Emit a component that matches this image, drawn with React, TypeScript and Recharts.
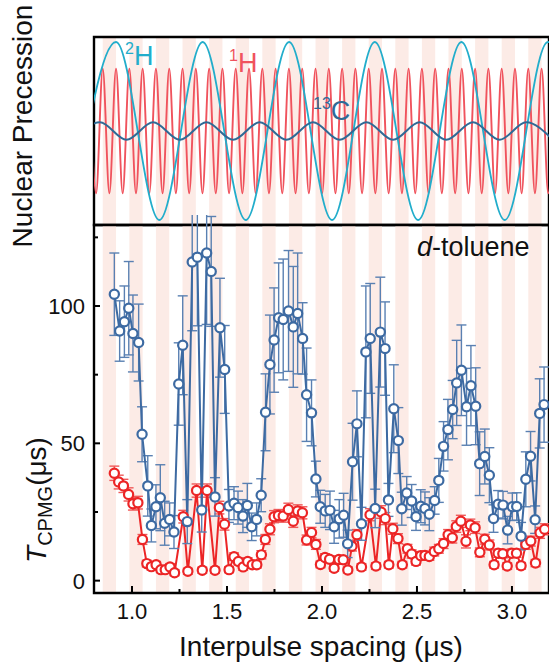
import React from "react"
import { LineChart, ComposedChart, Line, XAxis, YAxis, ReferenceArea, ErrorBar } from "recharts"

const FONT = '"Liberation Sans", Arial, Helvetica, sans-serif'

const X_DOMAIN: [number, number] = [0.8, 3.195]
const X_TICKS = [1.0, 1.25, 1.5, 1.75, 2.0, 2.25, 2.5, 2.75, 3.0]
const TOP_TICKS = [1.0, 1.5, 2.0, 2.5, 3.0]
const Y_TICKS = [0, 25, 50, 75, 100, 125]

// pink bands: where each one starts (µs); each is one 1H period wide
const BAND_STARTS = [
  0.846, 0.986, 1.126, 1.266, 1.406, 1.546, 1.686, 1.826, 1.966, 2.106, 2.246, 2.386, 2.526, 2.666, 2.806,
  2.946, 3.086,
]
const BAND_WIDTH = 0.07

// precession curves: successive maxima / minima positions (µs)
const H1_EXTREMA = [
  0.776, 0.811, 0.846, 0.881, 0.916, 0.951, 0.986, 1.021, 1.056, 1.091, 1.126, 1.161, 1.196, 1.231, 1.266,
  1.301, 1.336, 1.371, 1.406, 1.441, 1.476, 1.511, 1.546, 1.581, 1.616, 1.651, 1.686, 1.721, 1.756, 1.791,
  1.826, 1.861, 1.896, 1.931, 1.966, 2.001, 2.036, 2.071, 2.106, 2.141, 2.176, 2.211, 2.246, 2.281, 2.316,
  2.351, 2.386, 2.421, 2.456, 2.491, 2.526, 2.561, 2.596, 2.631, 2.666, 2.701, 2.736, 2.771, 2.806, 2.841,
  2.876, 2.911, 2.946, 2.981, 3.016, 3.051, 3.086, 3.121, 3.156, 3.191, 3.226,
]
const H1_AMP = 0.663 // first extremum is a maximum
const H2_EXTREMA = [0.689, 0.916, 1.144, 1.372, 1.599, 1.827, 2.053, 2.278, 2.506, 2.734, 2.962, 3.189, 3.416]
const H2_AMP = 0.947 // first extremum is a minimum
const C13_EXTREMA = [
  0.691, 0.831, 0.971, 1.111, 1.252, 1.392, 1.532, 1.672, 1.813, 1.953, 2.093, 2.234, 2.374, 2.514, 2.654,
  2.795, 2.935, 3.075, 3.215,
]
const C13_AMP = 0.093 // first extremum is a minimum

// T_CPMG, blue series
const BLUE_X = [
  0.907, 0.935, 0.96, 0.983, 1.005, 1.035, 1.053, 1.083, 1.102, 1.126, 1.149, 1.172, 1.198, 1.221, 1.246,
  1.267, 1.291, 1.317, 1.344, 1.367, 1.393, 1.417, 1.437, 1.463, 1.488, 1.51, 1.537, 1.558, 1.584, 1.607,
  1.63, 1.656, 1.68, 1.703, 1.726, 1.748, 1.772, 1.796, 1.824, 1.849, 1.872, 1.898, 1.919, 1.945, 1.968,
  1.991, 2.017, 2.042, 2.064, 2.091, 2.114, 2.135, 2.161, 2.184, 2.208, 2.231, 2.254, 2.28, 2.307, 2.332,
  2.35, 2.378, 2.402, 2.42, 2.446, 2.472, 2.495, 2.52, 2.542, 2.565, 2.593, 2.615, 2.64, 2.663, 2.688,
  2.709, 2.734, 2.761, 2.784, 2.809, 2.83, 2.857, 2.881, 2.903, 2.927, 2.953, 2.977, 3.002, 3.025, 3.048,
  3.073, 3.098, 3.122, 3.146, 3.169,
]
const BLUE_T = [
  104.3, 90.9, 94.3, 99.2, 90.0, 86.7, 53.3, 34.5, 20.1, 26.9, 30.2, 20.9, 22.3, 17.7, 71.6,
  85.7, 21.5, 116.0, 117.8, 25.7, 119.3, 112.6, 30.5, 92.1, 76.9, 27.2, 28.2, 26.6, 23.5, 27.4,
  19.6, 22.3, 31.1, 61.3, 78.7, 87.6, 95.7, 95.1, 98.2, 92.4, 97.3, 88.2, 67.7, 61.1, 37.0,
  26.9, 25.4, 25.6, 19.6, 22.5, 23.8, 13.4, 43.3, 57.1, 20.7, 83.3, 88.2, 26.3, 90.5, 84.5,
  29.4, 62.6, 51.0, 26.2, 31.9, 29.0, 23.3, 27.1, 26.3, 24.2, 29.2, 36.5, 48.9, 55.0, 62.3,
  72.0, 76.6, 63.3, 71.0, 63.5, 42.6, 45.2, 38.4, 22.6, 27.8, 27.5, 18.4, 26.9, 27.0, 16.2,
  36.9, 45.3, 22.2, 60.9, 64.1,
]
const BLUE_ERR = [
  15, 11, 13, 17, 14, 14, 10, 11, 6, 8, 12, 8, 6, 6, 15,
  18, 8, 25, 25, 8, 26, 20, 7, 18, 16, 6, 6, 6, 6, 8,
  5, 6, 6, 14, 18, 19, 20, 22, 22, 22, 22, 13, 17, 12, 6.5,
  6, 6, 7, 6, 7, 8, 5, 14, 12, 6, 24, 20, 7, 20, 17,
  6, 16, 12, 6, 6, 6, 5, 6, 6, 6, 5, 8, 9, 11, 10.6,
  15.5, 16.5, 14, 14.6, 14, 11.6, 10, 10, 5, 5, 5, 5, 5, 5, 5,
  10, 9, 5, 12.6, 13.7,
]

// T_CPMG, red series
const RED_X = [
  0.907, 0.93, 0.955, 0.982, 1.005, 1.031, 1.055, 1.078, 1.102, 1.127, 1.152, 1.175, 1.2, 1.224, 1.27,
  1.294, 1.34, 1.37, 1.395, 1.437, 1.46, 1.487, 1.511, 1.537, 1.56, 1.585, 1.609, 1.633, 1.657, 1.681,
  1.702, 1.726, 1.748, 1.771, 1.796, 1.823, 1.849, 1.872, 1.897, 1.919, 1.945, 1.968, 1.992, 2.016, 2.04,
  2.064, 2.089, 2.112, 2.136, 2.158, 2.184, 2.208, 2.253, 2.284, 2.311, 2.333, 2.352, 2.373, 2.4, 2.423,
  2.45, 2.472, 2.495, 2.52, 2.542, 2.565, 2.591, 2.615, 2.64, 2.664, 2.686, 2.707, 2.731, 2.758, 2.781,
  2.806, 2.831, 2.857, 2.881, 2.906, 2.927, 2.952, 2.975, 2.999, 3.024, 3.048, 3.073, 3.099, 3.124, 3.148,
  3.172,
]
const RED_T = [
  39.1, 35.9, 34.5, 31.4, 28.0, 28.4, 15.0, 6.2, 5.1, 5.8, 4.0, 4.0, 5.0, 2.9, 23.3,
  3.4, 32.8, 3.8, 32.8, 3.8, 26.6, 20.5, 4.0, 8.7, 7.0, 5.0, 7.0, 5.8, 5.8, 9.4,
  15.0, 18.7, 23.3, 23.7, 23.5, 25.9, 21.6, 25.4, 24.7, 14.8, 17.5, 13.2, 5.9, 8.4, 7.8,
  4.5, 7.7, 7.6, 3.9, 12.5, 16.7, 5.0, 24.0, 5.3, 25.0, 22.6, 5.8, 18.9, 15.3, 5.8,
  11.6, 9.7, 7.0, 9.1, 9.2, 8.8, 10.6, 11.6, 13.5, 16.7, 15.6, 19.7, 21.6, 14.3, 20.3,
  19.3, 10.3, 15.1, 13.0, 5.8, 10.0, 9.8, 5.3, 10.0, 10.0, 5.4, 13.2, 14.4, 6.4, 17.4,
  18.7,
]
const RED_ERR = [
  2.6, 2.5, 2.4, 2.4, 2.3, 2.3, 1.8, 1.2, 1.2, 1.2, 1.1, 1.1, 1.2, 1.1, 2.3,
  1.1, 2.4, 1.1, 2.4, 1.1, 2.3, 2.1, 1.1, 1.4, 1.3, 1.2, 1.3, 1.2, 1.2, 1.5,
  1.8, 2.0, 2.2, 2.2, 2.2, 2.3, 2.2, 2.2, 2.2, 1.8, 1.9, 1.8, 1.2, 1.4, 1.3,
  1.1, 1.3, 1.3, 1.1, 1.7, 1.9, 1.2, 2.2, 1.2, 2.3, 2.2, 1.2, 2.0, 1.8, 1.2,
  1.6, 1.5, 1.3, 1.5, 1.5, 1.4, 1.6, 1.6, 1.8, 1.9, 1.9, 2.1, 2.2, 2.4, 2.1,
  2.1, 1.6, 1.8, 1.8, 1.2, 1.5, 1.5, 1.2, 1.5, 1.5, 1.2, 1.8, 1.8, 1.3, 2.0,
  2.0,
]

const BLUE = "#3d6aa2"
const BLUE_BAR = "#5a80b2"
const RED = "#ec2526"
const RED_BAR = "#ef5a5a"
const H1_COLOR = "#f0535d"
const H2_COLOR = "#22adcb"
const C13_COLOR = "#2f6a96"
const BAND_FILL = "#fcebe6"

const wave = (ext: number[], amp: number, firstSign: number) =>
  ext.map((x, i) => ({ x, y: (i % 2 === 0 ? firstSign : -firstSign) * amp }))

const h1Data = wave(H1_EXTREMA, H1_AMP, 1)
const h2Data = wave(H2_EXTREMA, H2_AMP, -1)
const c13Data = wave(C13_EXTREMA, C13_AMP, -1)

const blueData = BLUE_X.map((x, i) => ({ x, t: BLUE_T[i], err: BLUE_ERR[i] }))
const redData = RED_X.map((x, i) => ({ x, t: RED_T[i], err: RED_ERR[i] }))

const isHalf = (v: number) => Math.abs(v * 2 - Math.round(v * 2)) < 1e-6
const isWhole = (v: number) => Math.abs(v - Math.round(v)) < 1e-6

const BottomXTick = (props: any) => {
  const { x, y, payload } = props
  const v = payload.value
  const major = isHalf(v)
  return (
    <g>
      <line x1={x} x2={x} y1={y} y2={y - (major ? 7 : 4)} stroke="#000" strokeWidth={2} />
      {major && (
        <text x={x} y={y + 26} textAnchor="middle" fontSize={22} fill="#111" fontFamily={FONT}>
          {v.toFixed(1)}
        </text>
      )}
    </g>
  )
}

const TopXTick = (props: any) => {
  const { x, y, payload } = props
  const v = payload.value
  return <line x1={x} x2={x} y1={y} y2={y - (isWhole(v) ? 5 : 2.5)} stroke="#000" strokeWidth={2} />
}

const LeftYTick = (props: any) => {
  const { x, y, payload } = props
  const v = payload.value
  const major = v % 50 === 0
  return (
    <g>
      <line x1={x} x2={x + (major ? 6 : 4)} y1={y} y2={y} stroke="#000" strokeWidth={2} />
      {major && (
        <text x={x - 9} y={y + 8} textAnchor="end" fontSize={22} fill="#111" fontFamily={FONT}>
          {v}
        </text>
      )}
    </g>
  )
}

const bands = (prefix: string) =>
  BAND_STARTS.map((s) => (
    <ReferenceArea
      key={prefix + s}
      x1={s}
      x2={Math.min(s + BAND_WIDTH, X_DOMAIN[1])}
      fill={BAND_FILL}
      fillOpacity={1}
      stroke="none"
      ifOverflow="hidden"
    />
  ))

export default function App() {
  return (
    <div style={{ position: "absolute", left: 0, top: 0, width: 549, height: 669, background: "#fff" }}>
      <div style={{ position: "absolute", left: 0, top: 0 }}>
        <LineChart width={549} height={240} margin={{ top: 37, right: 0, bottom: 15, left: 94 }}>
          <XAxis
            dataKey="x"
            type="number"
            domain={X_DOMAIN}
            allowDataOverflow
            ticks={TOP_TICKS}
            interval={0}
            height={0}
            tickSize={0}
            tickMargin={0}
            tickLine={false}
            axisLine={false}
            tick={TopXTick}
          />
          <YAxis type="number" domain={[-1, 1]} allowDataOverflow hide />
          {bands("t")}
          <Line data={h1Data} dataKey="y" type="monotoneX" stroke={H1_COLOR} strokeWidth={1.9} dot={false} isAnimationActive={false} />
          <Line data={h2Data} dataKey="y" type="monotoneX" stroke={H2_COLOR} strokeWidth={1.8} dot={false} isAnimationActive={false} />
          <Line data={c13Data} dataKey="y" type="monotoneX" stroke={C13_COLOR} strokeWidth={2} dot={false} isAnimationActive={false} />
          <ReferenceArea x1={X_DOMAIN[0]} x2={X_DOMAIN[1]} y1={-1} y2={1} fill="none" fillOpacity={0} stroke="#000" strokeWidth={2.4} />
        </LineChart>
      </div>

      <div style={{ position: "absolute", left: 0, top: 215 }}>
        <ComposedChart width={549} height={454} margin={{ top: 10, right: 0, bottom: 0, left: 0 }}>
          <XAxis
            dataKey="x"
            type="number"
            domain={X_DOMAIN}
            allowDataOverflow
            ticks={X_TICKS}
            interval={0}
            height={76}
            tickSize={0}
            tickMargin={0}
            tickLine={false}
            axisLine={false}
            tick={BottomXTick}
          />
          <YAxis
            type="number"
            domain={[-4.5, 129.5]}
            allowDataOverflow
            ticks={Y_TICKS}
            interval={0}
            width={94}
            tickSize={0}
            tickMargin={0}
            tickLine={false}
            axisLine={false}
            tick={LeftYTick}
          />
          {bands("b")}
          <Line
            data={redData}
            dataKey="t"
            type="linear"
            stroke={RED}
            strokeWidth={2}
            dot={{ r: 4.6, fill: "#fff", stroke: RED, strokeWidth: 2.2 }}
            isAnimationActive={false}
          >
            <ErrorBar dataKey="err" direction="y" width={5} stroke={RED_BAR} strokeWidth={1.4} isAnimationActive={false} />
          </Line>
          <Line
            data={blueData}
            dataKey="t"
            type="linear"
            stroke={BLUE}
            strokeWidth={2}
            dot={{ r: 4.6, fill: "#fff", stroke: BLUE, strokeWidth: 2.2 }}
            isAnimationActive={false}
          >
            <ErrorBar dataKey="err" direction="y" width={5} stroke={BLUE_BAR} strokeWidth={1.4} isAnimationActive={false} />
          </Line>
          <ReferenceArea x1={X_DOMAIN[0]} x2={X_DOMAIN[1]} y1={-4.5} y2={129.5} fill="none" fillOpacity={0} stroke="#000" strokeWidth={2.4} />
        </ComposedChart>
      </div>

      <svg width={549} height={669} style={{ position: "absolute", left: 0, top: 0, pointerEvents: "none" }} fontFamily={FONT}>
        <text x={125} y={65} fill={H2_COLOR} fontSize={27}>
          <tspan fontSize={16} dy={-11}>2</tspan>
          <tspan dy={11}>H</tspan>
        </text>
        <text x={229} y={72} fill={H1_COLOR} fontSize={27}>
          <tspan fontSize={16} dy={-11}>1</tspan>
          <tspan dy={11}>H</tspan>
        </text>
        <text x={313} y={120} fill={C13_COLOR} fontSize={27}>
          <tspan fontSize={16} dy={-11}>13</tspan>
          <tspan dy={11}>C</tspan>
        </text>
        <text x={417} y={256} fontSize={27} fill="#111">
          <tspan fontStyle="italic">d</tspan>-toluene
        </text>
        <text transform="translate(32,126) rotate(-90)" textAnchor="middle" fontSize={28} fill="#111">
          Nuclear Precession
        </text>
        <text transform="translate(46,500) rotate(-90)" textAnchor="middle" fontSize={28} fill="#111">
          <tspan fontStyle="italic">T</tspan>
          <tspan fontSize={20} dy={6}>CPMG</tspan>
          <tspan dy={-6}>(μs)</tspan>
        </text>
        <text x={321} y={656} textAnchor="middle" fontSize={28} fill="#111">
          Interpulse spacing (μs)
        </text>
      </svg>
    </div>
  )
}
